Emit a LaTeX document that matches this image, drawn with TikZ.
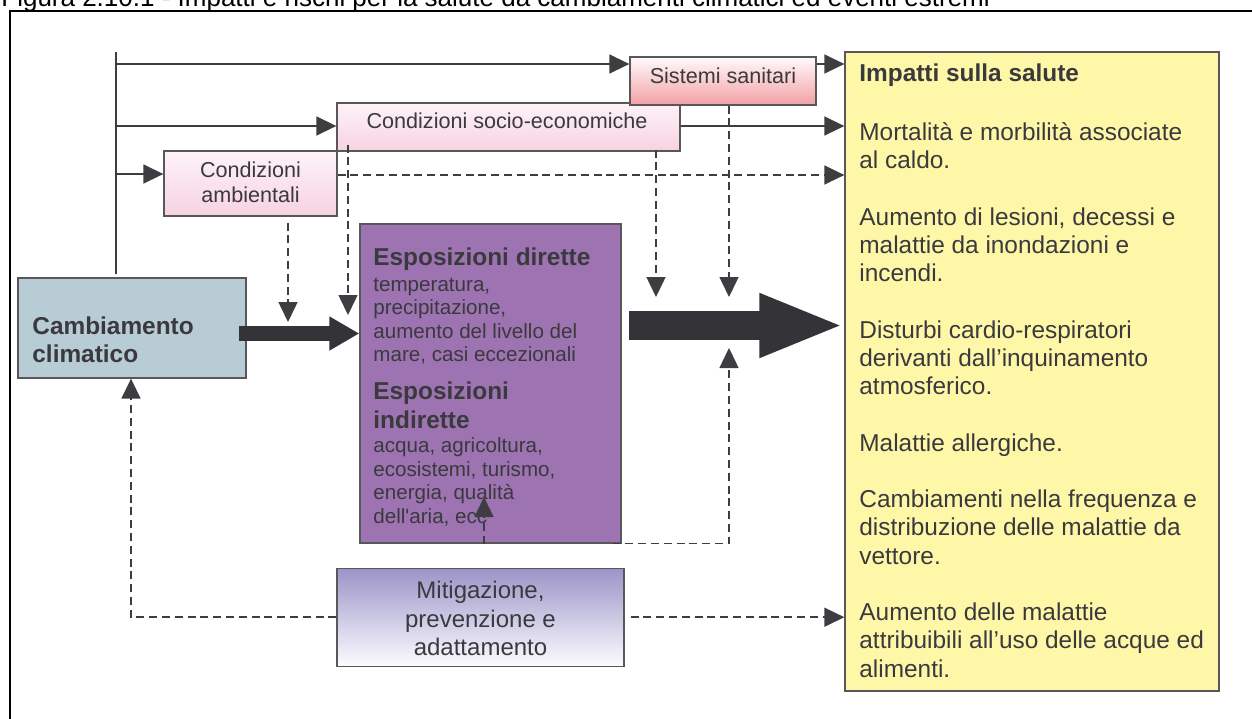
\documentclass[tikz,border=0pt]{standalone}
\usepackage{fontspec}
\setmainfont{Liberation Sans}
\usetikzlibrary{arrows.meta,calc}
\definecolor{txtc}{RGB}{58,58,62}
\definecolor{lncol}{RGB}{62,62,66}
\definecolor{bord}{RGB}{88,88,90}
\definecolor{blu}{RGB}{184,204,214}
\definecolor{purpc}{RGB}{157,115,177}
\definecolor{yelc}{RGB}{255,247,168}
\definecolor{pinkb}{RGB}{247,210,225}
\definecolor{pinkt}{RGB}{253,243,248}
\definecolor{salb}{RGB}{243,160,165}
\definecolor{salt}{RGB}{255,250,250}
\definecolor{lavt}{RGB}{155,148,200}
\definecolor{lavb}{RGB}{252,252,255}
\definecolor{darkc}{RGB}{52,52,56}
\newcommand\mystrut{\rule{0pt}{1em}}
\begin{document}
\begin{tikzpicture}[x=0.5pt,y=-0.5pt,
  box/.style={draw=bord, line width=0.65pt, inner sep=0pt},
  ln/.style={draw=lncol, line width=0.75pt},
  dsh/.style={ln, dash pattern=on 4pt off 2.4pt},
  arr/.style={-{Triangle[length=10pt,width=9.5pt]}},
  txtn/.style={text=txtc, inner sep=0pt},
  fat1/.style={draw=darkc, line width=7.5pt, -{Triangle[length=15pt,width=16pt]}},
  fat2/.style={draw=darkc, line width=14.5pt, -{Triangle[length=42.5pt,width=29pt]}}]
\useasboundingbox (0,0) rectangle (1252,718);
\fill[white] (0,0) rectangle (1252,718);
% title (cut by the page top, as in the reference)
\node[anchor=base west, inner sep=0pt, font=\fontsize{13}{15}\selectfont] (title) at (1,6.5)
  {Figura 2.10.1 - Impatti e rischi per la salute da cambiamenti climatici ed eventi estremi};
% frame
\draw[line width=1pt] (10,740) -- (10,11) -- (1270,11);
% boxes
\node[box, fill=blu, minimum width=114pt, minimum height=50pt] (camb) at (132,328) {};
\node[box, top color=pinkt, bottom color=pinkb, draw=bord, minimum width=171.5pt, minimum height=24pt] (socio) at (508.5,127) {};
\node[box, top color=pinkt, bottom color=pinkb, draw=bord, minimum width=86.5pt, minimum height=32.5pt] (amb) at (250.5,183.5) {};
\node[box, top color=salt, bottom color=salb, draw=bord, minimum width=93pt, minimum height=24pt] (sist) at (723,81) {};
\node[box, fill=purpc, minimum width=130.5pt, minimum height=159.5pt] (expo) at (490.5,383.5) {};
\node[box, top color=lavt, bottom color=lavb, draw=bord, minimum width=143.5pt, minimum height=49pt] (mitig) at (480.5,617.2) {};
\node[box, fill=yelc, minimum width=187pt, minimum height=319.5pt] (yel) at (1032,371.5) {};
% texts
\node[txtn, anchor=base, font=\fontsize{10.8}{12.65}\selectfont] (tsist) at (723,83.3) {Sistemi sanitari};
\node[txtn, anchor=base, font=\fontsize{10.8}{12.65}\selectfont] (tsocio) at (507,128) {Condizioni socio-economiche};
\node[txtn, anchor=north, align=center, font=\fontsize{10.8}{12.65}\selectfont] (tamb) at (250.5,155.4) {\mystrut Condizioni\\ambientali};
\node[txtn, anchor=north west, align=left, font=\fontsize{12.2}{14}\selectfont\bfseries] (tcamb) at (32,309.6) {\mystrut Cambiamento\\climatico};
\node[txtn, anchor=base west, font=\fontsize{12.2}{14.5}\selectfont\bfseries] (th1) at (373,265) {Esposizioni dirette};
\node[txtn, anchor=north west, align=left, font=\fontsize{10.3}{11.8}\selectfont] (tb1) at (373,270.1)
  {\mystrut temperatura,\\precipitazione,\\aumento del livello del\\mare, casi eccezionali};
\node[txtn, anchor=north west, align=left, font=\fontsize{12.2}{14.5}\selectfont\bfseries] (th2) at (373,374.6)
  {\mystrut Esposizioni\\indirette};
\node[txtn, anchor=north west, align=left, font=\fontsize{10.3}{11.8}\selectfont] (tb2) at (373,431.4)
  {\mystrut acqua, agricoltura,\\ecosistemi, turismo,\\energia, qualità\\dell\textquotesingle aria, ecc};
\node[txtn, anchor=north west, align=left, font=\fontsize{12.2}{14.125}\selectfont] (tyel) at (859,56.6)
  {\mystrut\textbf{Impatti sulla salute}\\[15.4pt]
   Mortalità e morbilità associate\\al caldo.\\[14.125pt]
   Aumento di lesioni, decessi e\\malattie da inondazioni e\\incendi.\\[14.125pt]
   Disturbi cardio-respiratori\\derivanti dall’inquinamento\\atmosferico.\\[14.125pt]
   Malattie allergiche.\\[14.125pt]
   Cambiamenti nella frequenza e\\distribuzione delle malattie da\\vettore.\\[14.125pt]
   Aumento delle malattie\\attribuibili all’uso delle acque ed\\alimenti.};
\node[txtn, anchor=north, align=center, font=\fontsize{12}{14.15}\selectfont] (tmit) at (480.5,574.3)
  {\mystrut Mitigazione,\\prevenzione e\\adattamento};
% helper coordinates
\coordinate (vb) at (116,274);
\coordinate (vt) at (116,52);
\coordinate (j1) at (116,64);
\coordinate (j2) at (116,126);
\coordinate (j3) at (116,174);
\coordinate (d1) at (0,175);
\coordinate (ka) at (288,322);
\coordinate (kb) at (348,315);
\coordinate (kc) at (656,297);
\coordinate (kd) at (729,297);
\coordinate (ke) at (484,497);
\coordinate (kf) at (729,348);
\coordinate (kg) at (131,0);
\coordinate (fa) at (629,325.5);
% connectors
\draw[ln] (vb) -- (vt);
\draw[ln,arr] (j1) -- (j1 -| sist.west);
\draw[ln,arr] (j2) -- (j2 -| socio.west);
\draw[ln,arr] (j3) -- (j3 -| amb.west);
\draw[ln,arr] (j1 -| sist.east) -- (j1 -| yel.west);
\draw[ln,arr] (j2 -| socio.east) -- (j2 -| yel.west);
\draw[dsh,arr] (d1 -| amb.east) -- (d1 -| yel.west);
\draw[dsh,arr] ([yshift=-3pt]amb.south -| ka) -- (ka);
\draw[dsh,arr] ([yshift=3.5pt]socio.south -| kb) -- (kb);
\draw[dsh,arr] ([yshift=1pt]socio.south -| kc) -- (kc);
\draw[dsh,arr] (sist.south -| kd) -- (kd);
\draw[dsh,arr] (expo.south -| ke) -- (ke);
\draw[dsh,arr] ([xshift=-4.5pt]expo.south east) -- (expo.south -| kf) -- (kf);
\draw[dsh,arr] (mitig.west) -- (mitig.west -| kg) -- (camb.south -| kg);
\draw[dsh,arr] ([xshift=3pt]mitig.east) -- (mitig.east -| yel.west);
\draw[fat1] ([xshift=-4pt,yshift=-2.75pt]camb.east) -- ([yshift=-2.75pt]camb.east -| expo.west);
\draw[fat2] (fa) -- (fa -| yel.west);
\end{tikzpicture}
\end{document}
